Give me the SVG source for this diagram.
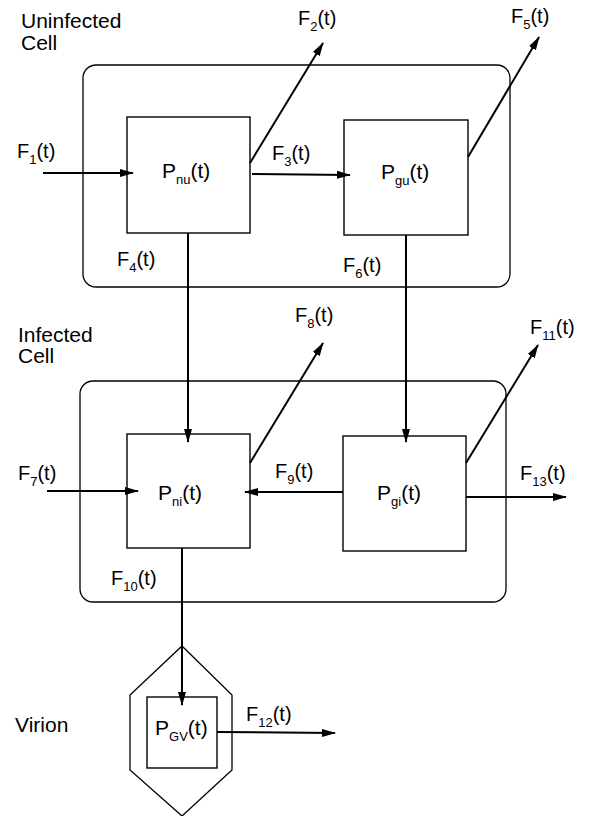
<svg xmlns="http://www.w3.org/2000/svg" width="591" height="816" viewBox="0 0 591 816">
<defs>
<marker id="ah" markerWidth="14" markerHeight="10" refX="13" refY="5" orient="auto" markerUnits="userSpaceOnUse">
<path d="M0,1 L14,5 L0,9 Z" fill="#000"/>
</marker>
</defs>
<style>
text{font-family:"Liberation Sans",Arial,sans-serif;fill:#000}
.f{font-size:20px}
.p{font-size:21px}
.c{font-size:21px}
.s{font-size:13px}
.box{fill:none;stroke:#000;stroke-width:1.4}
.cell{fill:none;stroke:#000;stroke-width:1.3}
.arr{fill:none;stroke:#000;stroke-width:2;marker-end:url(#ah)}
</style>
<rect width="591" height="816" fill="#fff"/>
<g id="uninfected-cell">
<rect class="cell" x="83" y="65" width="427" height="222" rx="13"/>
<text class="c" x="21" y="28">Uninfected</text>
<text class="c" x="21" y="50">Cell</text>
</g>
<g id="infected-cell">
<rect class="cell" x="80" y="381" width="426" height="221" rx="13"/>
<text class="c" x="18" y="342">Infected</text>
<text class="c" x="18" y="363">Cell</text>
</g>
<g id="virion">
<polygon class="cell" points="182,646 232,695 232,770 182,816 130,770 130,695"/>
<text class="c" x="15" y="732">Virion</text>
</g>
<g id="Pnu">
<rect class="box" x="127" y="117" width="123" height="116"/>
<text class="p" x="162" y="178">P<tspan class="s" dy="6">nu</tspan><tspan dy="-6">(t)</tspan></text>
</g>
<g id="Pgu">
<rect class="box" x="344" y="120" width="124" height="115"/>
<text class="p" x="381" y="179">P<tspan class="s" dy="6">gu</tspan><tspan dy="-6">(t)</tspan></text>
</g>
<g id="Pni">
<rect class="box" x="127" y="434" width="123" height="114"/>
<text class="p" x="158" y="500">P<tspan class="s" dy="6">ni</tspan><tspan dy="-6">(t)</tspan></text>
</g>
<g id="Pgi">
<rect class="box" x="343" y="436" width="123" height="115"/>
<text class="p" x="377" y="500">P<tspan class="s" dy="6">gi</tspan><tspan dy="-6">(t)</tspan></text>
</g>
<g id="PGV">
<rect class="box" x="147" y="697" width="70" height="71"/>
<text class="p" x="155" y="735">P<tspan class="s" dy="6">GV</tspan><tspan dy="-6">(t)</tspan></text>
</g>
<g id="connectors">
<line class="arr" x1="43" y1="173" x2="133" y2="173"/>
<line class="arr" x1="250" y1="163" x2="323" y2="43"/>
<line class="arr" x1="252" y1="174" x2="350" y2="175"/>
<line class="arr" x1="468" y1="157" x2="539" y2="37"/>
<line class="arr" x1="188" y1="233" x2="188" y2="442"/>
<line class="arr" x1="406" y1="235" x2="406" y2="442"/>
<line class="arr" x1="47" y1="491" x2="138" y2="491"/>
<line class="arr" x1="250" y1="463" x2="323" y2="343"/>
<line class="arr" x1="343" y1="492" x2="245" y2="492"/>
<line class="arr" x1="466" y1="463" x2="538" y2="345"/>
<line class="arr" x1="466" y1="497" x2="566" y2="497"/>
<line class="arr" x1="182" y1="548" x2="182" y2="705"/>
<line class="arr" x1="217" y1="732" x2="335" y2="733"/>
</g>
<g id="labels">
<text class="f" x="17" y="158">F<tspan class="s" dy="6">1</tspan><tspan dy="-6">(t)</tspan></text>
<text class="f" x="298" y="25">F<tspan class="s" dy="6">2</tspan><tspan dy="-6">(t)</tspan></text>
<text class="f" x="272" y="160">F<tspan class="s" dy="6">3</tspan><tspan dy="-6">(t)</tspan></text>
<text class="f" x="117" y="266">F<tspan class="s" dy="6">4</tspan><tspan dy="-6">(t)</tspan></text>
<text class="f" x="511" y="23">F<tspan class="s" dy="6">5</tspan><tspan dy="-6">(t)</tspan></text>
<text class="f" x="343" y="272">F<tspan class="s" dy="6">6</tspan><tspan dy="-6">(t)</tspan></text>
<text class="f" x="18" y="480">F<tspan class="s" dy="6">7</tspan><tspan dy="-6">(t)</tspan></text>
<text class="f" x="295" y="322">F<tspan class="s" dy="6">8</tspan><tspan dy="-6">(t)</tspan></text>
<text class="f" x="275" y="478">F<tspan class="s" dy="6">9</tspan><tspan dy="-6">(t)</tspan></text>
<text class="f" x="111" y="585">F<tspan class="s" dy="6">10</tspan><tspan dy="-6">(t)</tspan></text>
<text class="f" x="530" y="334">F<tspan class="s" dy="6">11</tspan><tspan dy="-6">(t)</tspan></text>
<text class="f" x="246" y="721">F<tspan class="s" dy="6">12</tspan><tspan dy="-6">(t)</tspan></text>
<text class="f" x="520" y="480">F<tspan class="s" dy="6">13</tspan><tspan dy="-6">(t)</tspan></text>
</g>
</svg>
